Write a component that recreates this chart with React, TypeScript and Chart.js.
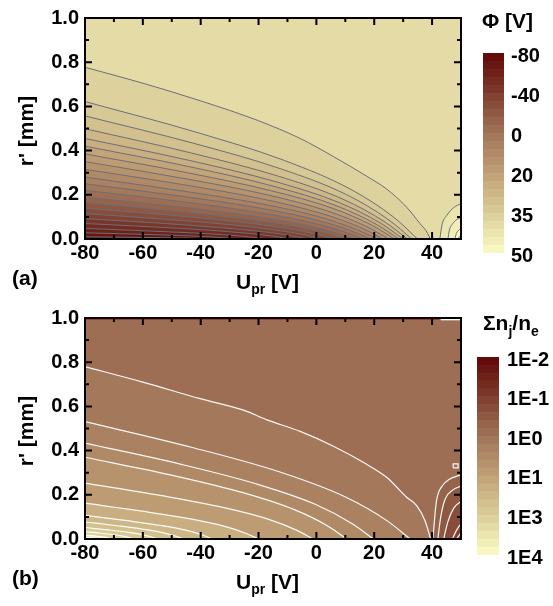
import React, { useEffect, useRef } from 'react';
import { Chart, registerables } from 'chart.js';

Chart.register(...registerables);

const FONT = '"Liberation Sans", Arial, Helvetica, sans-serif';
Chart.defaults.font.family = FONT;

// ---------- axes ----------
const X_TICKS = [-80, -60, -40, -20, 0, 20, 40];
const X_TICK_LABELS = ['-80', '-60', '-40', '-20', '0', '20', '40'];
const X_MINOR = [-70, -50, -30, -10, 10, 30];
const Y_TICKS = [0, 0.2, 0.4, 0.6, 0.8, 1.0];
const Y_TICK_LABELS = ['0.0', '0.2', '0.4', '0.6', '0.8', '1.0'];
const Y_MINOR = [0.1, 0.3, 0.5, 0.7, 0.9];

// ---------- colour bars ----------
const BAND_VALUES = [1, 1, 1, 1, 1, 1, 1, 1, 1, 1, 1, 1, 1, 1, 1, 1, 1, 1, 1, 1, 1, 1, 1, 1, 1];
const PHI_BAR_LABELS = ['-80', '-40', '0', '20', '35', '50'];
const DENS_BAR_LABELS = ['1E-2', '1E-1', '1E0', '1E1', '1E3', '1E4'];

// ---------- panel (a): potential contours  [U_pr, r'] ----------
const PHI_LEFT: number[][][] = [
  [[-80, 0.777], [-60, 0.705], [-40, 0.625], [-20, 0.535], [-5.6, 0.455], [5.9, 0.373], [17.4, 0.284], [24.4, 0.225], [31.2, 0.144], [35.8, 0.07], [38.5, 0.025], [39.3, 0]],
  [[-80, 0.622], [-42, 0.485], [-11, 0.355], [12, 0.224], [27, 0.096], [35, 0]],
  [[-80, 0.557], [-42.7, 0.434], [-12.2, 0.317], [10.4, 0.201], [25.1, 0.086], [33, 0]],
  [[-80, 0.499], [-43.2, 0.389], [-13.1, 0.284], [9.2, 0.18], [23.7, 0.077], [31.5, 0]],
  [[-80, 0.455], [-43.7, 0.355], [-14, 0.259], [8, 0.164], [22.3, 0.071], [30, 0]],
  [[-80, 0.42], [-44.2, 0.328], [-14.9, 0.239], [6.8, 0.151], [20.9, 0.065], [28.5, 0]],
  [[-80, 0.385], [-44.7, 0.3], [-15.8, 0.219], [5.6, 0.139], [19.5, 0.06], [27, 0]],
  [[-80, 0.35], [-45.4, 0.273], [-17, 0.2], [4, 0.126], [17.7, 0.054], [25, 0]],
  [[-80, 0.315], [-46, 0.246], [-18.2, 0.18], [2.4, 0.113], [15.8, 0.049], [23, 0]],
  [[-80, 0.28], [-46.7, 0.218], [-19.4, 0.16], [0.8, 0.101], [13.9, 0.043], [21, 0]],
  [[-80, 0.25], [-47.5, 0.195], [-20.9, 0.143], [-1.2, 0.09], [11.6, 0.039], [18.5, 0]],
  [[-80, 0.22], [-48.3, 0.172], [-22.4, 0.125], [-3.2, 0.079], [9.3, 0.034], [16, 0]],
  [[-80, 0.19], [-49.3, 0.148], [-24.2, 0.108], [-5.6, 0.068], [6.5, 0.029], [13, 0]],
  [[-80, 0.165], [-50.3, 0.129], [-26, 0.094], [-8, 0.059], [3.7, 0.026], [10, 0]],
  [[-80, 0.14], [-51.6, 0.109], [-28.4, 0.08], [-11.2, 0.05], [0, 0.022], [6, 0]],
  [[-80, 0.115], [-52.9, 0.09], [-30.8, 0.066], [-14.4, 0.041], [-3.7, 0.018], [2, 0]],
  [[-80, 0.092], [-54.6, 0.072], [-33.8, 0.052], [-18.4, 0.033], [-8.4, 0.014], [-3, 0]],
  [[-80, 0.07], [-56.6, 0.055], [-37.4, 0.04], [-23.2, 0.025], [-14, 0.011], [-9, 0]],
  [[-80, 0.048], [-59.2, 0.037], [-42.2, 0.027], [-29.6, 0.017], [-21.4, 0.007], [-17, 0]],
  [[-80, 0.028], [-62.2, 0.022], [-47.6, 0.016], [-36.8, 0.01], [-29.8, 0.004], [-26, 0]],
  [[-80, 0.01], [-65.5, 0.008], [-53.6, 0.006], [-44.8, 0.004], [-36, 0]],
];
const PHI_LEFT_BANDS = [20, 19, 18, 17, 16, 15, 14, 13, 12, 11, 10, 9, 8, 7, 6, 5, 4, 3, 2, 1, 0];
const PHI_RIGHT: number[][][] = [
  [[42.7, 0], [43.4, 0.062], [45.1, 0.107], [47.5, 0.142], [50, 0.16]],
  [[45.5, 0], [46, 0.04], [47.2, 0.07], [48.5, 0.088], [50, 0.098]],
  [[47.9, 0], [48.4, 0.025], [49.2, 0.04], [50, 0.049]],
  [[49, 0], [49.5, 0.011], [50, 0.018]],
];
const PHI_RIGHT_BANDS = [22, 23, 24, 24];
const PHI_BG_BAND = 21;

// ---------- panel (b): density ratio contours  [U_pr, r'] ----------
const DENS_LEFT: number[][][] = [
  [[-80, 0.78], [-60, 0.71], [-40.2, 0.635], [-25.2, 0.583], [-17.1, 0.539], [-5.6, 0.487], [5.9, 0.42], [17.4, 0.338], [24.4, 0.278], [31.2, 0.189], [34.6, 0.152], [37.5, 0.085], [39.5, 0]],
  [[-80, 0.531], [-42.9, 0.414], [-12.6, 0.303], [9.9, 0.191], [24.5, 0.082], [32.4, 0]],
  [[-80, 0.434], [-47.1, 0.339], [-20.2, 0.247], [-0.2, 0.156], [12.7, 0.067], [19.7, 0]],
  [[-80, 0.37], [-50.1, 0.289], [-25.7, 0.211], [-7.6, 0.133], [4.2, 0.057], [10.5, 0]],
  [[-80, 0.253], [-54, 0.197], [-32.7, 0.144], [-17, 0.091], [-6.7, 0.039], [-1.2, 0]],
  [[-80, 0.162], [-60.2, 0.126], [-44, 0.092], [-32, 0.058], [-24.2, 0.025], [-20, 0]],
  [[-80, 0.107], [-65.5, 0.083], [-53.6, 0.061], [-44.8, 0.039], [-39.1, 0.017], [-36, 0]],
  [[-80, 0.077], [-68.8, 0.06], [-59.6, 0.044], [-52.8, 0.028], [-48.4, 0.012], [-46, 0]],
  [[-80, 0.052], [-71.8, 0.041], [-65, 0.03], [-60, 0.019], [-56.8, 0.008], [-55, 0]],
  [[-80, 0.033], [-74.4, 0.026], [-69.8, 0.019], [-66.4, 0.012], [-63, 0]],
  [[-80, 0.018], [-76.7, 0.014], [-74, 0.01], [-70, 0]],
  [[-80, 0.008], [-77.5, 0.005], [-75, 0]],
];
const DENS_LEFT_BANDS = [10, 11, 12, 13, 14, 16, 17, 18, 19, 20, 22, 24];
const DENS_RIGHT: number[][][] = [
  [[40.3, 0], [40.8, 0.08], [41.5, 0.17], [43.5, 0.24], [46, 0.27], [50, 0.29]],
  [[42, 0], [43, 0.1], [44.5, 0.18], [47, 0.22], [50, 0.24]],
  [[44, 0], [45.5, 0.08], [47.5, 0.14], [50, 0.17]],
  [[47, 0], [48.5, 0.04], [50, 0.07]],
  [[48.5, 0], [49.3, 0.015], [50, 0.03]],
];
const DENS_RIGHT_BANDS = [8, 7, 6, 5, 3];
const DENS_BG_BAND = 9;
const DENS_ISLAND: number[][] = [[47.3, 0.322], [49, 0.322], [49, 0.34], [47.3, 0.34], [47.3, 0.322]];
const DENS_TOP_EDGE: number[][] = [[-80, 0.996], [42.5, 0.996]];
const DENS_TOP_PATCH: number[][] = [[43, 0.994], [50, 0.994]];

// ---------- colour map (dark -> light) ----------
const COLOR_STOPS: [number, number[]][] = [
  [0, [95, 5, 5]],
  [0.2, [125, 60, 45]],
  [0.4, [160, 115, 88]],
  [0.6, [192, 160, 118]],
  [0.8, [218, 205, 152]],
  [1, [252, 252, 198]],
];
function bandColor(i: number): string {
  const p = (i + 0.5) / BAND_VALUES.length;
  for (let k = 1; k < COLOR_STOPS.length; k++) {
    const [p1, c1] = COLOR_STOPS[k];
    const [p0, c0] = COLOR_STOPS[k - 1];
    if (p <= p1) {
      const t = (p - p0) / (p1 - p0);
      const c = c0.map((v, j) => Math.round(v + (c1[j] - v) * t));
      return `rgb(${c[0]},${c[1]},${c[2]})`;
    }
  }
  return 'rgb(252,252,198)';
}

const tickFont = { family: FONT, size: 20, weight: 'bold' as const };

type Run = [string, number, number];
function drawRuns(ctx: CanvasRenderingContext2D, x: number, y: number, runs: Run[]) {
  let cx = x;
  for (const [t, size, dy] of runs) {
    ctx.font = `bold ${size}px ${FONT}`;
    ctx.fillText(t, cx, y + dy);
    cx += ctx.measureText(t).width;
  }
}

interface PanelSpec {
  left: number[][][];
  leftBands: number[];
  right: number[][][];
  rightBands: number[];
  bg: number;
  lineColor: string;
  lineWidth: number;
  extras: { pts: number[][]; color: string; width: number }[];
  padTop: number;
  xAxisH: number;
  label: string;
}

function contourDs(pts: number[][], fillColor: string | null, color: string, width: number, order: number, smooth = true) {
  return {
    data: pts.map(([x, y]) => ({ x, y })),
    fill: fillColor ? 'origin' : false,
    backgroundColor: fillColor || 'transparent',
    borderColor: color,
    borderWidth: width,
    pointRadius: 0,
    cubicInterpolationMode: smooth ? 'monotone' : 'default',
    tension: 0,
    order,
  };
}

function panelConfig(p: PanelSpec): any {
  const datasets: any[] = [];
  p.left.forEach((pts, i) => datasets.push(contourDs(pts, bandColor(p.leftBands[i]), p.lineColor, p.lineWidth, 1000 - i)));
  p.right.forEach((pts, i) => datasets.push(contourDs(pts, bandColor(p.rightBands[i]), p.lineColor, p.lineWidth, 500 - i)));
  p.extras.forEach((e, i) => datasets.push(contourDs(e.pts, null, e.color, e.width, 10 - i, false)));

  const deco = {
    id: 'deco',
    beforeDatasetsDraw(chart: any) {
      const { ctx, chartArea: a } = chart;
      ctx.save();
      ctx.fillStyle = bandColor(p.bg);
      ctx.fillRect(a.left, a.top, a.right - a.left, a.bottom - a.top);
      ctx.restore();
    },
    afterDatasetsDraw(chart: any) {
      const { ctx, chartArea: a, scales } = chart;
      const xs = scales.x, ys = scales.y;
      ctx.save();
      ctx.strokeStyle = '#000';
      ctx.lineWidth = 2;
      ctx.beginPath();
      const tick = (x0: number, y0: number, x1: number, y1: number) => { ctx.moveTo(x0, y0); ctx.lineTo(x1, y1); };
      X_TICKS.forEach((v) => {
        const px = xs.getPixelForValue(v);
        tick(px, a.bottom, px, a.bottom - 7);
        tick(px, a.top, px, a.top + 7);
      });
      X_MINOR.forEach((v) => {
        const px = xs.getPixelForValue(v);
        tick(px, a.bottom, px, a.bottom - 4);
        tick(px, a.top, px, a.top + 4);
      });
      Y_TICKS.forEach((v) => {
        const py = ys.getPixelForValue(v);
        tick(a.left, py, a.left + 7, py);
        tick(a.right, py, a.right - 7, py);
      });
      Y_MINOR.forEach((v) => {
        const py = ys.getPixelForValue(v);
        tick(a.left, py, a.left + 4, py);
        tick(a.right, py, a.right - 4, py);
      });
      ctx.stroke();
      ctx.strokeRect(a.left, a.top, a.right - a.left, a.bottom - a.top);
      ctx.restore();
    },
    afterDraw(chart: any) {
      const { ctx } = chart;
      ctx.save();
      ctx.fillStyle = '#000';
      ctx.save();
      ctx.translate(27.5, 131);
      ctx.rotate(-Math.PI / 2);
      ctx.textAlign = 'center';
      ctx.textBaseline = 'middle';
      ctx.font = `bold 21px ${FONT}`;
      ctx.fillText("r' [mm]", 0, 0);
      ctx.restore();
      ctx.textAlign = 'left';
      ctx.textBaseline = 'alphabetic';
      drawRuns(ctx, 236, 289, [['U', 21, 0], ['pr', 14, 5], [' [V]', 21, 0]]);
      ctx.font = `bold 21px ${FONT}`;
      ctx.fillText(p.label, 12, 285);
      ctx.restore();
    },
  };

  return {
    type: 'line',
    data: { datasets },
    options: {
      responsive: false,
      animation: false,
      events: [],
      layout: { padding: { left: 0, right: 9, top: p.padTop, bottom: 0 } },
      plugins: { legend: { display: false }, tooltip: { enabled: false } },
      scales: {
        x: {
          type: 'linear',
          min: -80,
          max: 50,
          grid: { display: false, drawTicks: false, tickLength: 0 },
          border: { display: false },
          ticks: {
            stepSize: 20,
            includeBounds: false,
            autoSkip: false,
            maxRotation: 0,
            padding: 2,
            color: '#000',
            font: tickFont,
            callback: (v: number) => {
              const k = X_TICKS.findIndex((t) => Math.abs(t - v) < 1e-6);
              return k >= 0 ? X_TICK_LABELS[k] : '';
            },
          },
          afterFit: (s: any) => { s.height = p.xAxisH; },
        },
        y: {
          type: 'linear',
          min: 0,
          max: 1,
          grid: { display: false, drawTicks: false, tickLength: 0 },
          border: { display: false },
          ticks: {
            stepSize: 0.2,
            padding: 6,
            color: '#000',
            font: tickFont,
            callback: (v: number) => {
              const k = Y_TICKS.findIndex((t) => Math.abs(t - v) < 1e-6);
              return k >= 0 ? Y_TICK_LABELS[k] : '';
            },
          },
          afterFit: (s: any) => { s.width = 85; },
        },
      },
    },
    plugins: [deco],
  };
}

interface BarSpec {
  labels: string[];
  padLeft: number;
  padTop: number;
  padBottom: number;
  axisW: number;
  tickPad: number;
  title: (ctx: CanvasRenderingContext2D) => void;
}

function colorbarConfig(c: BarSpec): any {
  const n = BAND_VALUES.length;
  const step = n / (c.labels.length - 1);
  return {
    type: 'bar',
    data: {
      labels: [''],
      datasets: BAND_VALUES.map((v, k) => ({
        data: [v],
        backgroundColor: bandColor(n - 1 - k),
        borderWidth: 0,
        barPercentage: 1,
        categoryPercentage: 1,
      })),
    },
    options: {
      responsive: false,
      animation: false,
      events: [],
      layout: { padding: { left: c.padLeft, top: c.padTop, bottom: c.padBottom, right: 0 } },
      plugins: { legend: { display: false }, tooltip: { enabled: false } },
      scales: {
        x: { display: false, stacked: true },
        y: {
          position: 'right',
          stacked: true,
          min: 0,
          max: n,
          grid: { display: false, drawTicks: false, tickLength: 0 },
          border: { display: false },
          ticks: {
            stepSize: step,
            padding: c.tickPad,
            labelOffset: 3,
            color: '#000',
            font: tickFont,
            callback: (v: number) => c.labels[Math.round((n - v) / step)] ?? '',
          },
          afterFit: (s: any) => { s.width = c.axisW; },
        },
      },
    },
    plugins: [
      {
        id: 'cbTitle',
        afterDraw(chart: any) {
          const ctx = chart.ctx;
          ctx.save();
          ctx.fillStyle = '#000';
          ctx.textAlign = 'left';
          ctx.textBaseline = 'alphabetic';
          c.title(ctx);
          ctx.restore();
        },
      },
    ],
  };
}

export default function App() {
  const aRef = useRef<HTMLCanvasElement>(null);
  const aBarRef = useRef<HTMLCanvasElement>(null);
  const bRef = useRef<HTMLCanvasElement>(null);
  const bBarRef = useRef<HTMLCanvasElement>(null);

  useEffect(() => {
    const charts: Chart[] = [];
    charts.push(
      new Chart(
        aRef.current as HTMLCanvasElement,
        panelConfig({
          left: PHI_LEFT,
          leftBands: PHI_LEFT_BANDS,
          right: PHI_RIGHT,
          rightBands: PHI_RIGHT_BANDS,
          bg: PHI_BG_BAND,
          lineColor: 'rgb(108,110,120)',
          lineWidth: 1,
          extras: [],
          padTop: 14,
          xAxisH: 61,
          label: '(a)',
        })
      )
    );
    charts.push(
      new Chart(
        bRef.current as HTMLCanvasElement,
        panelConfig({
          left: DENS_LEFT,
          leftBands: DENS_LEFT_BANDS,
          right: DENS_RIGHT,
          rightBands: DENS_RIGHT_BANDS,
          bg: DENS_BG_BAND,
          lineColor: 'rgba(255,255,255,0.95)',
          lineWidth: 1.2,
          extras: [
            { pts: DENS_ISLAND, color: 'rgba(255,255,255,0.95)', width: 1.2 },
            { pts: DENS_TOP_EDGE, color: 'rgb(165,40,40)', width: 1.5 },
            { pts: DENS_TOP_PATCH, color: 'rgb(255,255,255)', width: 2 },
          ],
          padTop: 15,
          xAxisH: 67,
          label: '(b)',
        })
      )
    );
    charts.push(
      new Chart(
        aBarRef.current as HTMLCanvasElement,
        colorbarConfig({
          labels: PHI_BAR_LABELS,
          padLeft: 13,
          padTop: 53,
          padBottom: 47,
          axisW: 49,
          tickPad: 7,
          title: (ctx) => drawRuns(ctx, 12, 28, [['Φ [V]', 21, 0]]),
        })
      )
    );
    charts.push(
      new Chart(
        bBarRef.current as HTMLCanvasElement,
        colorbarConfig({
          labels: DENS_BAR_LABELS,
          padLeft: 11,
          padTop: 57,
          padBottom: 51,
          axisW: 54,
          tickPad: 8,
          title: (ctx) => drawRuns(ctx, 17, 29.5, [['Σn', 21, 0], ['j', 14, 6], ['/n', 21, 0], ['e', 14, 6]]),
        })
      )
    );
    return () => charts.forEach((ch) => ch.destroy());
  }, []);

  const abs = (l: number, t: number, w: number, h: number): React.CSSProperties => ({
    position: 'absolute',
    left: l,
    top: t,
    width: w,
    height: h,
    display: 'block',
  });

  return (
    <div style={{ position: 'absolute', left: 0, top: 0, width: 553, height: 606, background: '#fff' }}>
      <canvas ref={aRef} width={470} height={300} style={abs(0, 0, 470, 300)} />
      <canvas ref={aBarRef} width={83} height={300} style={abs(470, 0, 83, 300)} />
      <canvas ref={bRef} width={470} height={306} style={abs(0, 300, 470, 306)} />
      <canvas ref={bBarRef} width={87} height={306} style={abs(466, 300, 87, 306)} />
    </div>
  );
}
